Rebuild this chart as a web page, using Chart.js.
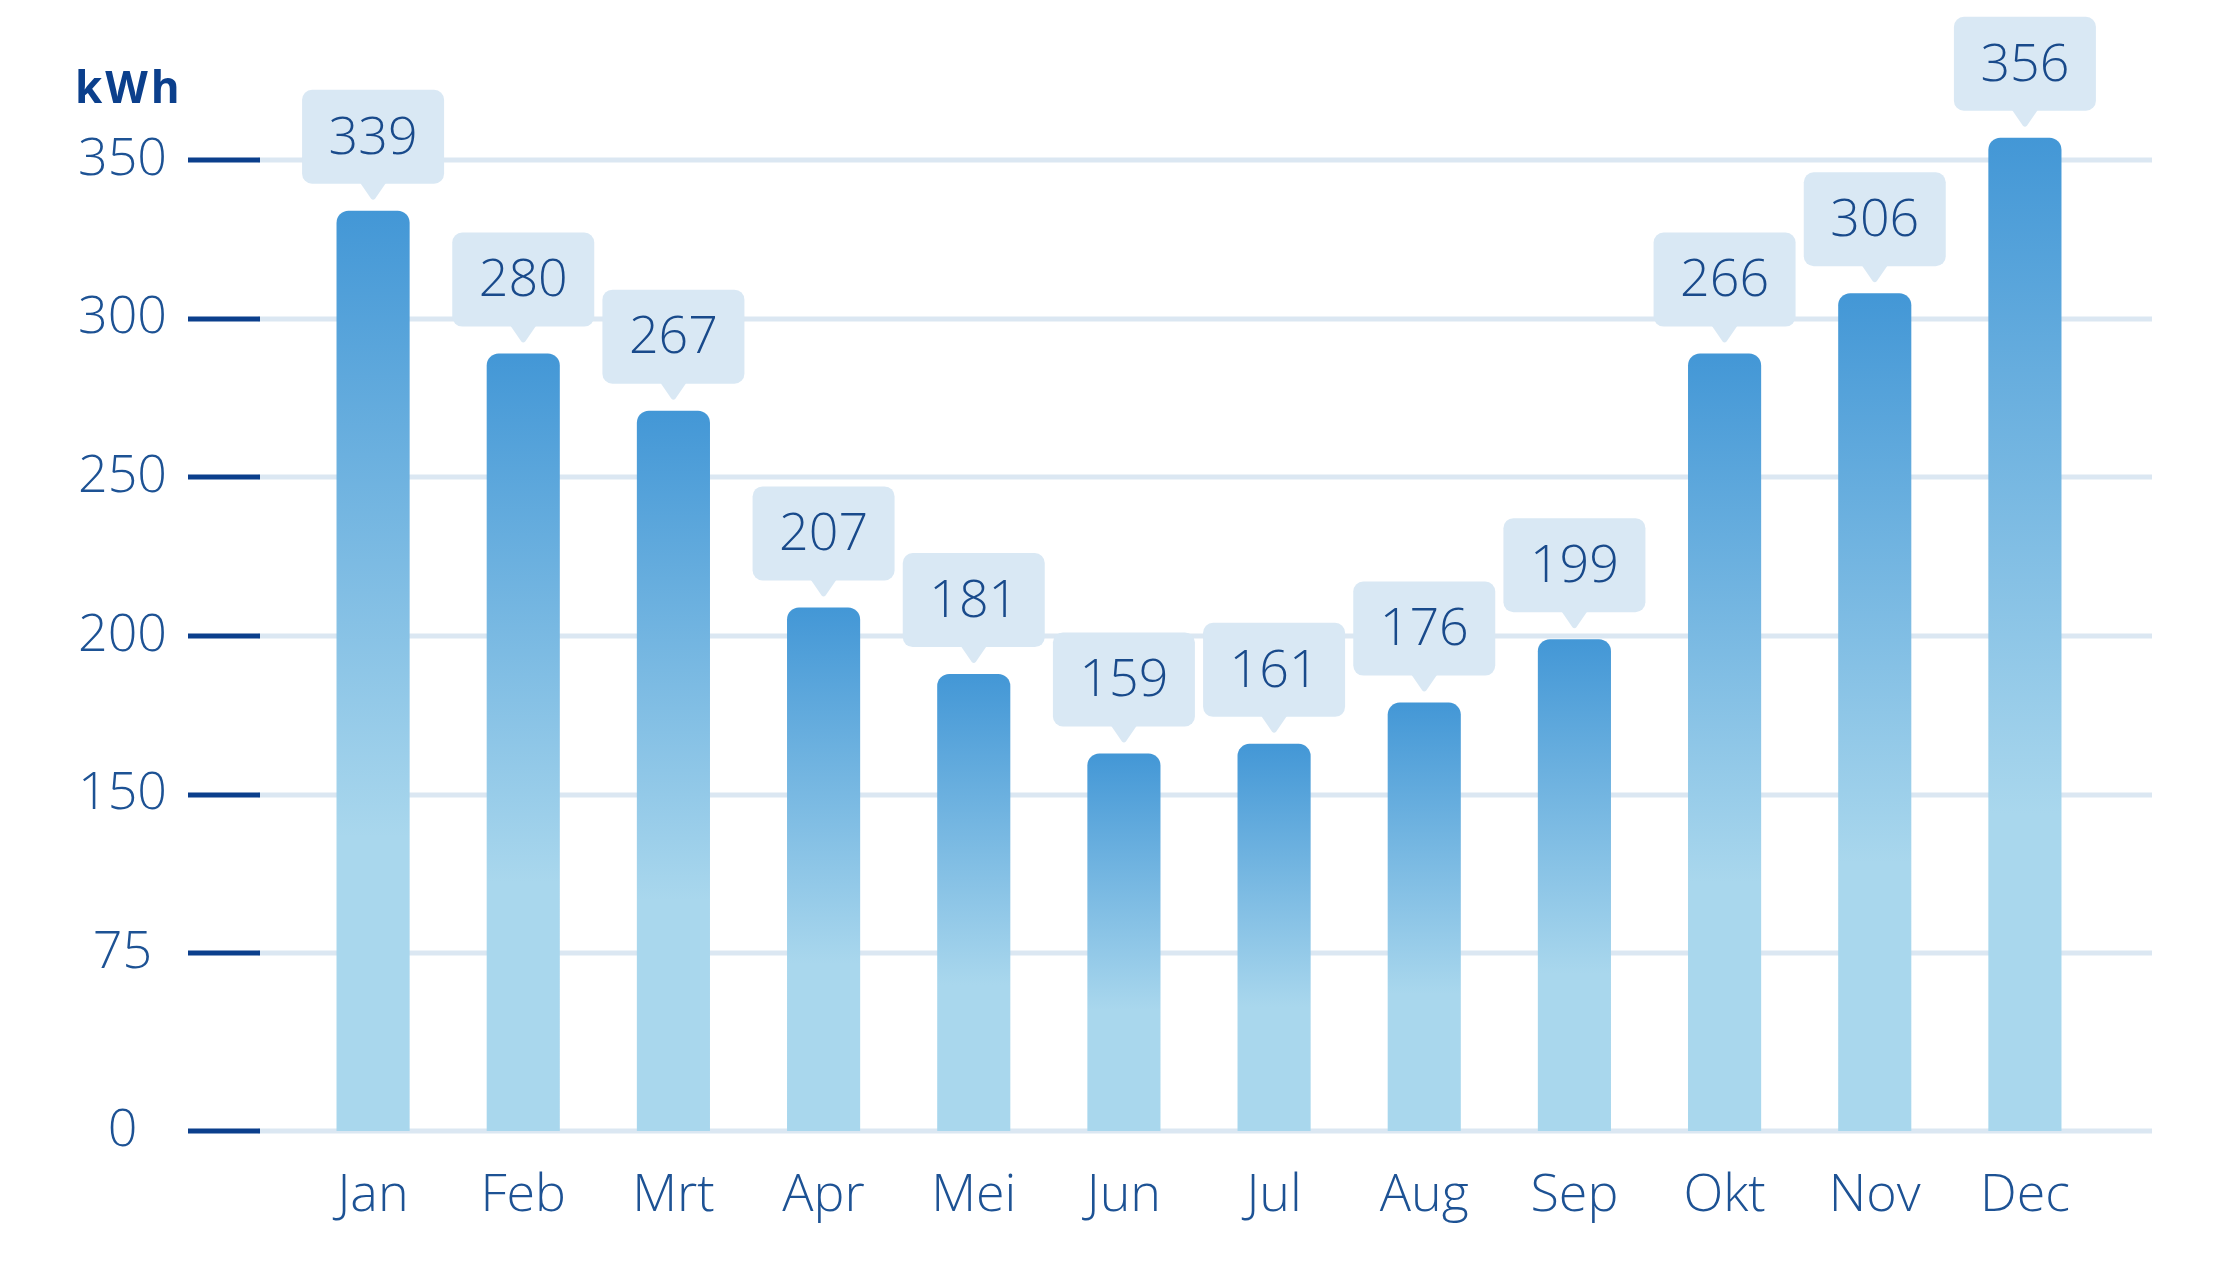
<!DOCTYPE html>
<html>
<head>
<meta charset="utf-8">
<title>Verbruik per maand</title>
<script src="https://cdn.jsdelivr.net/npm/chart.js@4.4.1/dist/chart.umd.min.js"></script>
<style>
  html, body { margin: 0; padding: 0; background: #ffffff; }
  #wrap { width: 2240px; height: 1265px; }
</style>
</head>
<body>
<div id="wrap"><canvas id="verbruik" width="2240" height="1265"></canvas></div>
<script>
// waarden
const months = ['Jan', 'Feb', 'Mrt', 'Apr', 'Mei', 'Jun', 'Jul', 'Aug', 'Sep', 'Okt', 'Nov', 'Dec'];
const barValues = [334, 289, 271, 209, 188, 163, 166, 179, 199, 289, 308, 357];   // hoogte van de staven
const labelValues = [339, 280, 267, 207, 181, 159, 161, 176, 199, 266, 306, 356]; // getallen in de ballonnen
const yTicks = [0, 75, 150, 200, 250, 300, 350];
const yTickLabels = ['0', '75', '150', '200', '250', '300', '350'];
const unit = 'kWh';

const textBlue = '#1d5294';
const navy = '#0b3f8c';
const gridColor = '#dbe7f2';
const boxColor = '#d9e8f4';
const barTop = '#4397d6';
const barBottom = '#a9d7ed';
const firstStepStretch = 1.12; // de stap 0-75 is iets hoger getekend

Chart.defaults.font.family = "'Open Sans', 'Noto Sans', sans-serif";
Chart.defaults.font.weight = 300;

// y-as met gelijke afstand tussen de (ongelijke) tick-waarden
class StepScale extends Chart.LinearScale {
  determineDataLimits() {
    this.min = yTicks[0];
    this.max = yTicks[yTicks.length - 1];
  }
  buildTicks() {
    return yTicks.map(v => ({ value: v }));
  }
  _span() {
    return firstStepStretch + (yTicks.length - 2);
  }
  _pos(v) {
    let pos = 0;
    for (let i = 1; i < yTicks.length; i++) {
      const w = i === 1 ? firstStepStretch : 1;
      if (v <= yTicks[i] || i === yTicks.length - 1) {
        return pos + w * (v - yTicks[i - 1]) / (yTicks[i] - yTicks[i - 1]);
      }
      pos += w;
    }
    return pos;
  }
  getPixelForValue(v) {
    return this.getPixelForDecimal(this._pos(v) / this._span());
  }
  getValueForPixel(p) {
    let pos = this.getDecimalForPixel(p) * this._span();
    for (let i = 1; i < yTicks.length; i++) {
      const w = i === 1 ? firstStepStretch : 1;
      if (pos <= w || i === yTicks.length - 1) {
        return yTicks[i - 1] + pos / w * (yTicks[i] - yTicks[i - 1]);
      }
      pos -= w;
    }
  }
}
StepScale.id = 'stepped';
StepScale.defaults = {};
Chart.register(StepScale);

const gridPlugin = {
  id: 'gridLines',
  beforeDatasetsDraw(chart) {
    const { ctx, chartArea } = chart;
    const y = chart.scales.y;
    ctx.save();
    ctx.lineWidth = 5;
    yTicks.forEach(v => {
      const py = Math.round(y.getPixelForValue(v));
      ctx.strokeStyle = gridColor;
      ctx.beginPath();
      ctx.moveTo(chartArea.left - 40, py);
      ctx.lineTo(chartArea.right + 52, py);
      ctx.stroke();
      ctx.strokeStyle = navy;
      ctx.beginPath();
      ctx.moveTo(chartArea.left - 110, py);
      ctx.lineTo(chartArea.left - 38, py);
      ctx.stroke();
    });
    ctx.restore();
  }
};

const calloutPlugin = {
  id: 'callouts',
  afterDatasetsDraw(chart) {
    const { ctx } = chart;
    const meta = chart.getDatasetMeta(0);
    const w = 142, h = 94, r = 10, tipGap = 11, tipH = 16, tipW = 26;
    ctx.save();
    meta.data.forEach((bar, i) => {
      const tipY = bar.y - tipGap;
      const bottom = tipY - tipH;
      const top = bottom - h;
      const left = bar.x - w / 2;
      ctx.fillStyle = boxColor;
      ctx.beginPath();
      ctx.roundRect(left, top, w, h, r);
      ctx.fill();
      ctx.beginPath();
      ctx.moveTo(bar.x - tipW / 2, bottom - 1);
      ctx.lineTo(bar.x + tipW / 2, bottom - 1);
      ctx.lineTo(bar.x + 2, tipY - 1);
      ctx.quadraticCurveTo(bar.x, tipY + 1, bar.x - 2, tipY - 1);
      ctx.closePath();
      ctx.fill();
      ctx.fillStyle = '#194a8b';
      ctx.font = "300 52px 'Open Sans', sans-serif";
      ctx.textAlign = 'center';
      ctx.textBaseline = 'middle';
      ctx.fillText(String(labelValues[i]), bar.x, top + h / 2 + 2);
    });
    // eenheid linksboven
    ctx.fillStyle = navy;
    ctx.font = "bold 44px 'Open Sans', sans-serif";
    ctx.textAlign = 'left';
    ctx.textBaseline = 'alphabetic';
    ctx.letterSpacing = '3px';
    ctx.fillText(unit, 75, 103);
    ctx.restore();
  }
};

new Chart(document.getElementById('verbruik'), {
  type: 'bar',
  data: {
    labels: months,
    datasets: [{
      data: barValues,
      clip: false,
      categoryPercentage: 1,
      barPercentage: 0.487,
      borderRadius: 12,
      borderSkipped: 'bottom',
      backgroundColor(c) {
        const chart = c.chart;
        const y = chart.scales.y;
        if (!y || !chart.chartArea || c.type !== 'data') return barBottom;
        const top = y.getPixelForValue(c.raw);
        const bottom = y.getPixelForValue(0);
        if (!isFinite(top) || !isFinite(bottom) || top === bottom) return barBottom;
        const g = chart.ctx.createLinearGradient(0, top, 0, bottom);
        g.addColorStop(0, barTop);
        g.addColorStop(0.68, barBottom);
        g.addColorStop(1, barBottom);
        return g;
      }
    }]
  },
  options: {
    responsive: false,
    animation: false,
    layout: { autoPadding: false, padding: { top: 160, right: 140, bottom: 0, left: 0 } },
    plugins: {
      legend: { display: false },
      tooltip: { enabled: false }
    },
    scales: {
      x: {
        grid: { display: false },
        border: { display: false },
        ticks: {
          color: textBlue,
          font: { size: 52 },
          padding: 26
        },
        afterFit(scale) { scale.height = 134; }
      },
      y: {
        type: 'stepped',
        grid: { display: false, drawTicks: false },
        border: { display: false },
        ticks: {
          color: textBlue,
          font: { size: 52 },
          crossAlign: 'center',
          padding: 131,
          callback: (v, i) => yTickLabels[i]
        },
        afterFit(scale) {
          scale.width = 298;
          // de tick-padding hoort niet boven en onder de as te komen
          scale.paddingTop = 0;
          scale.paddingBottom = 0;
        }
      }
    }
  },
  plugins: [gridPlugin, calloutPlugin]
});
</script>
</body>
</html>
